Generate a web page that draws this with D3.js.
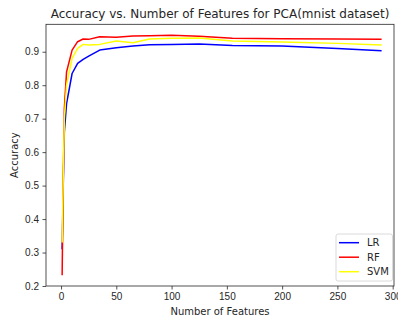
<!DOCTYPE html>
<html>
<head>
<meta charset="utf-8">
<script src="https://cdn.jsdelivr.net/npm/d3@7"></script>
<style>
  body { margin: 0; background: #fff; }
  svg { font-family: "DejaVu Sans", sans-serif; }
  .axis text { font-size: 10px; fill: #262626; }
  .axis path, .axis line { stroke: #262626; stroke-width: 0.8; }
</style>
</head>
<body>
<div class="chart"></div>
<script>
// Number of PCA components used
var features = [1, 2, 3, 5, 10, 15, 20, 25, 35, 50, 65, 80, 100, 125, 155, 200, 250, 290];

// Accuracy per classifier
var lrAcc  = [0.31, 0.50, 0.66, 0.745, 0.835, 0.865, 0.877, 0.887, 0.905, 0.912, 0.917, 0.921, 0.922, 0.923, 0.919, 0.917, 0.910, 0.903];
var rfAcc  = [0.232, 0.52, 0.73, 0.84, 0.905, 0.93, 0.938, 0.937, 0.945, 0.943, 0.947, 0.948, 0.949, 0.946, 0.940, 0.939, 0.938, 0.937];
var svmAcc = [0.33, 0.53, 0.70, 0.80, 0.88, 0.91, 0.922, 0.92, 0.922, 0.932, 0.927, 0.938, 0.940, 0.941, 0.932, 0.929, 0.925, 0.920];

var seriesNames = ["LR", "RF", "SVM"];
var seriesColors = ["blue", "red", "yellow"];

var xTicks = [0, 50, 100, 150, 200, 250, 300];
var yTicks = [0.2, 0.3, 0.4, 0.5, 0.6, 0.7, 0.8, 0.9];

var width = 398, height = 320;
var plot = {left: 46, right: 394, top: 24.3, bottom: 286};

var x = d3.scaleLinear().domain([-13.6, 301.2]).range([plot.left, plot.right]);
var y = d3.scaleLinear().domain([0.2, 0.982]).range([plot.bottom, plot.top]);

var svg = d3.select(".chart").append("svg")
    .attr("width", width)
    .attr("height", height);

// Lines
var line = d3.line()
    .x(function(d) { return x(d[0]); })
    .y(function(d) { return y(d[1]); });

[lrAcc, rfAcc, svmAcc].forEach(function(acc, i) {
    svg.append("path")
        .datum(features.map(function(f, j) { return [f, acc[j]]; }))
        .attr("fill", "none")
        .attr("stroke", seriesColors[i])
        .attr("stroke-width", 1.5)
        .attr("stroke-linejoin", "round")
        .attr("d", line);
});

// Axes
svg.append("g")
    .attr("class", "axis")
    .attr("transform", "translate(0," + plot.bottom + ")")
    .call(d3.axisBottom(x).tickValues(xTicks).tickSize(3.5).tickPadding(3.5).tickSizeOuter(0))
    .select(".domain").remove();

svg.append("g")
    .attr("class", "axis")
    .attr("transform", "translate(" + plot.left + ",0)")
    .call(d3.axisLeft(y).tickValues(yTicks).tickFormat(d3.format(".1f")).tickSize(3.5).tickPadding(3.5))
    .select(".domain").remove();

// Frame
svg.append("rect")
    .attr("x", plot.left)
    .attr("y", plot.top)
    .attr("width", plot.right - plot.left)
    .attr("height", plot.bottom - plot.top)
    .attr("fill", "none")
    .attr("stroke", "#262626")
    .attr("stroke-width", 0.8);

// Title and labels
svg.append("text")
    .attr("x", (plot.left + plot.right) / 2)
    .attr("y", 18)
    .attr("text-anchor", "middle")
    .attr("font-size", 12)
    .attr("fill", "#262626")
    .text("Accuracy vs. Number of Features for PCA(mnist dataset)");

svg.append("text")
    .attr("x", (plot.left + plot.right) / 2)
    .attr("y", 315)
    .attr("text-anchor", "middle")
    .attr("font-size", 10)
    .attr("fill", "#262626")
    .text("Number of Features");

svg.append("text")
    .attr("transform", "translate(18," + (plot.top + plot.bottom) / 2 + ") rotate(-90)")
    .attr("text-anchor", "middle")
    .attr("font-size", 10)
    .attr("fill", "#262626")
    .text("Accuracy");

// Legend
var legend = svg.append("g").attr("transform", "translate(336,234)");

legend.append("rect")
    .attr("width", 56.5)
    .attr("height", 47)
    .attr("rx", 2)
    .attr("fill", "#fff")
    .attr("fill-opacity", 0.8)
    .attr("stroke", "#d0d0d0")
    .attr("stroke-width", 0.8);

seriesNames.forEach(function(name, i) {
    var ly = 8.7 + i * 14.5;
    legend.append("line")
        .attr("x1", 3).attr("x2", 23)
        .attr("y1", ly).attr("y2", ly)
        .attr("stroke", seriesColors[i])
        .attr("stroke-width", 1.5);
    legend.append("text")
        .attr("x", 31)
        .attr("y", ly + 3.5)
        .attr("font-size", 10)
        .attr("fill", "#262626")
        .text(name);
});
</script>
</body>
</html>
